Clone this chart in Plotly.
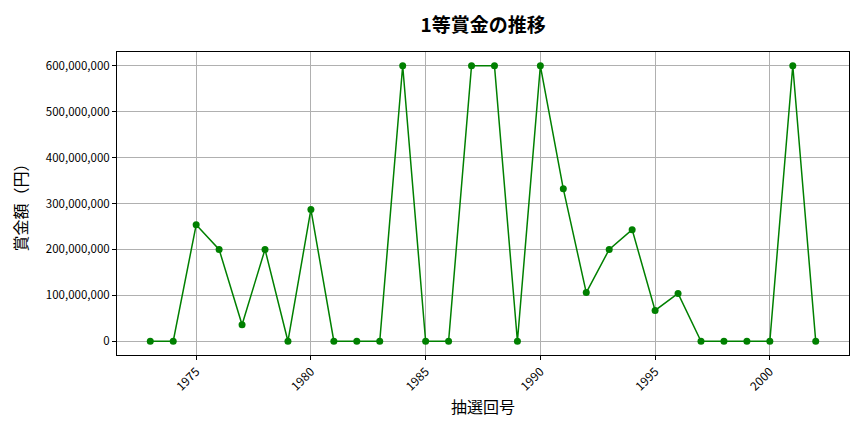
import plotly.graph_objects as go

years = list(range(1973, 2003))
prize = [
    0, 0, 253600000, 200000000, 36000000, 200000000, 0, 287000000, 0, 0,
    0, 600000000, 0, 0, 600000000, 600000000, 0, 600000000, 332000000, 106000000,
    200000000, 243000000, 67000000, 104000000, 0, 0, 0, 0, 600000000, 0,
]
x_ticks = [1975, 1980, 1985, 1990, 1995, 2000]
y_ticks = [0, 100000000, 200000000, 300000000, 400000000, 500000000, 600000000]

font_jp = "Noto Sans CJK JP"

fig = go.Figure()
fig.add_trace(go.Scatter(
    x=years,
    y=prize,
    mode='lines+markers',
    line=dict(color='green', width=1.5),
    marker=dict(color='green', size=7),
    showlegend=False,
))

# page body has an 8px margin, so the figure is a bit smaller than the window
fig.update_layout(
    width=856,
    height=424,
    template='plotly_white',
    font=dict(family=font_jp, size=11.5, color='black'),
    title=dict(text='<b>1等賞金の推移</b>', x=0.555, xanchor='center',
               y=0.975, yanchor='top',
               font=dict(size=19, family=font_jp)),
    margin=dict(l=109, r=15, t=44, b=77),
    plot_bgcolor='white',
)
fig.update_xaxes(
    range=[1971.55, 2003.45],
    tickvals=x_ticks,
    ticktext=[str(v) for v in x_ticks],
    tickangle=-45,
    tickfont=dict(size=12),
    ticks='outside', ticklen=4, tickcolor='black',
    showgrid=True, gridcolor='#b0b0b0', gridwidth=0.8,
    showline=True, linecolor='black', linewidth=1, mirror=True,
    zeroline=False,
    title=dict(text='抽選回号', font=dict(size=16), standoff=9),
)
fig.update_yaxes(
    range=[-30000000, 630000000],
    tickvals=y_ticks,
    ticktext=[f'{v:,}' for v in y_ticks],
    ticks='outside', ticklen=4, tickcolor='black',
    showgrid=True, gridcolor='#b0b0b0', gridwidth=0.8,
    showline=True, linecolor='black', linewidth=1, mirror=True,
    zeroline=False,
    title=dict(text='賞金額（円）', font=dict(size=16), standoff=14),
)

fig.write_html("out.html")
